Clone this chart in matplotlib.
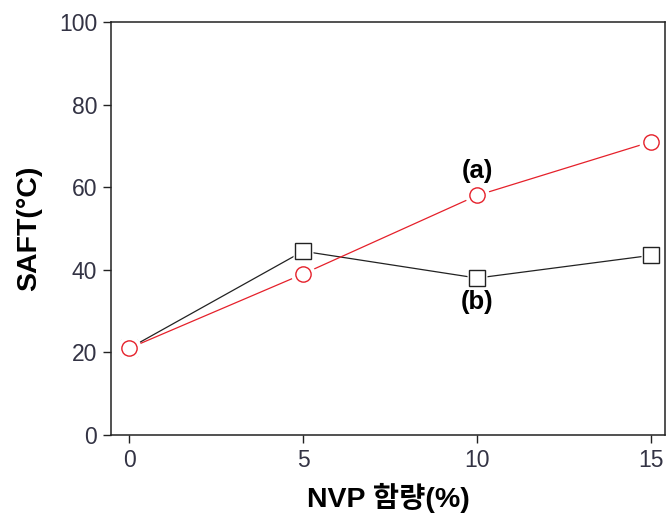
import matplotlib
matplotlib.use("Agg")
import matplotlib.pyplot as plt

nvp = [0, 5, 10, 15]
saft_a = [21, 39, 58, 71]
saft_b = [21, 44.5, 38, 43.5]
x_ticks = [0, 5, 10, 15]
y_ticks = [0, 20, 40, 60, 80, 100]

fig = plt.figure(figsize=(6.66, 5.18), dpi=100)
ax = fig.add_axes([0.1667, 0.1602, 0.8318, 0.7973])

red = '#e5202a'
black = '#222222'

ax.plot(nvp, saft_b, color=black, lw=0.9, zorder=2)
ax.plot(nvp, saft_a, color=red, lw=0.9, zorder=2)
# white halos to create gaps between lines and markers
ax.plot(nvp, saft_b, ls='none', marker='s', ms=15, mfc='white', mec='none', zorder=2.5)
ax.plot(nvp, saft_b, ls='none', marker='s', ms=11, mfc='white', mec=black, mew=1.0, zorder=3)
ax.plot(nvp, saft_a, ls='none', marker='o', ms=17.5, mfc='white', mec='none', zorder=3.5)
ax.plot(nvp, saft_a, ls='none', marker='o', ms=11, mfc='white', mec=red, mew=1.0, zorder=4)

ax.set_xlim(-0.52, 15.4)
ax.set_ylim(0, 100)
ax.set_xticks(x_ticks)
ax.set_yticks(y_ticks)
ax.tick_params(direction='out', length=6, width=1.0, labelsize=16.5, labelcolor='#333344', color='#222222', pad=4)
for lab in ax.get_xticklabels() + ax.get_yticklabels():
    lab.set_family(['Liberation Sans', 'DejaVu Sans'])
for s in ax.spines.values():
    s.set_linewidth(1.1)
    s.set_color('#222222')

fam = ['Liberation Sans', 'Noto Sans CJK KR', 'DejaVu Sans']
ax.set_xlabel('NVP 함량(%)', fontsize=20.5, fontweight='bold', family=fam, labelpad=8)
ax.set_ylabel('SAFT(°C)', fontsize=20.5, fontweight='bold', family=fam, labelpad=12)

ax.text(10, 61, '(a)', ha='center', va='bottom', fontsize=18.5, fontweight='bold', family=fam)
ax.text(10, 35, '(b)', ha='center', va='top', fontsize=18.5, fontweight='bold', family=fam)

fig.savefig('out.png', dpi=100)
